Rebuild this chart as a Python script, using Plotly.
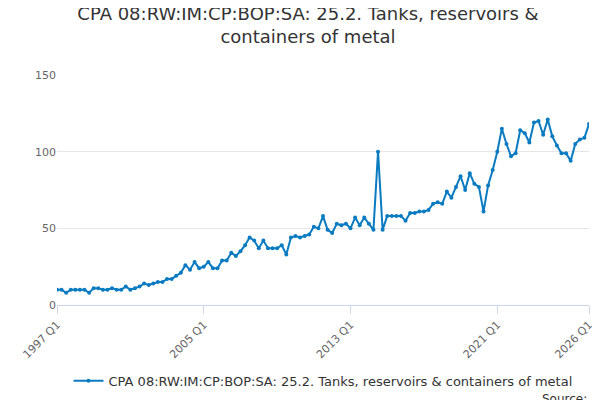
import plotly.graph_objects as go

years = list(range(1997, 2027))
quarters = [f"{y} Q{q}" for y in years for q in range(1, 5)][:117]

values = [
    10, 10, 8, 10,
    10, 10, 10, 8,
    11, 11, 10, 10,
    11, 10, 10, 12,
    10, 11, 12, 14,
    13, 14, 15, 15,
    17, 17, 19, 21,
    26, 23, 28, 24,
    25, 28, 24, 24,
    29, 29, 34, 32,
    35, 39, 44, 42,
    37, 42, 37, 37,
    37, 39, 33, 44,
    45, 44, 45, 46,
    51, 50, 58, 49,
    47, 53, 52, 53,
    50, 57, 52, 57,
    53, 49, 100, 49,
    58, 58, 58, 58,
    55, 60, 60, 61,
    61, 62, 66, 67,
    66, 74, 70, 77,
    84, 75, 86, 79,
    77, 61, 78, 88,
    100, 115, 105, 97,
    99, 114, 112, 106,
    119, 120, 111, 121,
    110, 104, 99, 99,
    94, 105, 108, 109,
    118,
]

tick_labels = ["1997 Q1", "2005 Q1", "2013 Q1", "2021 Q1", "2026 Q1"]
name = "CPA 08:RW:IM:CP:BOP:SA: 25.2. Tanks, reservoirs & containers of metal"

fig = go.Figure(go.Scatter(
    x=quarters, y=values, mode="lines+markers", name=name,
    line=dict(color="#0a7bc1", width=2), marker=dict(size=4, color="#0a7bc1"),
))

fig.update_layout(
    width=600, height=400,
    title=dict(text="CPA 08:RW:IM:CP:BOP:SA: 25.2. Tanks, reservoirs &<br>containers of metal",
               x=0.5, xanchor="center", y=0.97, yanchor="top",
               font=dict(size=18, color="#333333")),
    font=dict(family="DejaVu Sans", color="#666666"),
    plot_bgcolor="white", paper_bgcolor="white",
    margin=dict(l=47, r=19, t=67, b=103),
    showlegend=True,
    legend=dict(orientation="h", x=0.5, xanchor="center", y=-0.33, yanchor="middle",
                font=dict(size=13, color="#333333")),
    xaxis=dict(type="category", range=[0, 116], tickvals=tick_labels, ticktext=tick_labels,
               tickangle=-45, ticks="outside", ticklen=8, tickcolor="#ccd6eb",
               showline=True, linecolor="#ccd6eb", showgrid=False,
               tickfont=dict(size=11)),
    yaxis=dict(range=[0, 150], tickvals=[0, 50, 100, 150], gridcolor="#e6e6e6",
               zeroline=False, tickfont=dict(size=11)),
    annotations=[dict(text="Source:", x=1, xref="paper", xanchor="right",
                      y=-0.41, yref="paper", yanchor="middle", showarrow=False,
                      font=dict(size=12, color="#333333"))],
)

fig.write_html("out.html")
